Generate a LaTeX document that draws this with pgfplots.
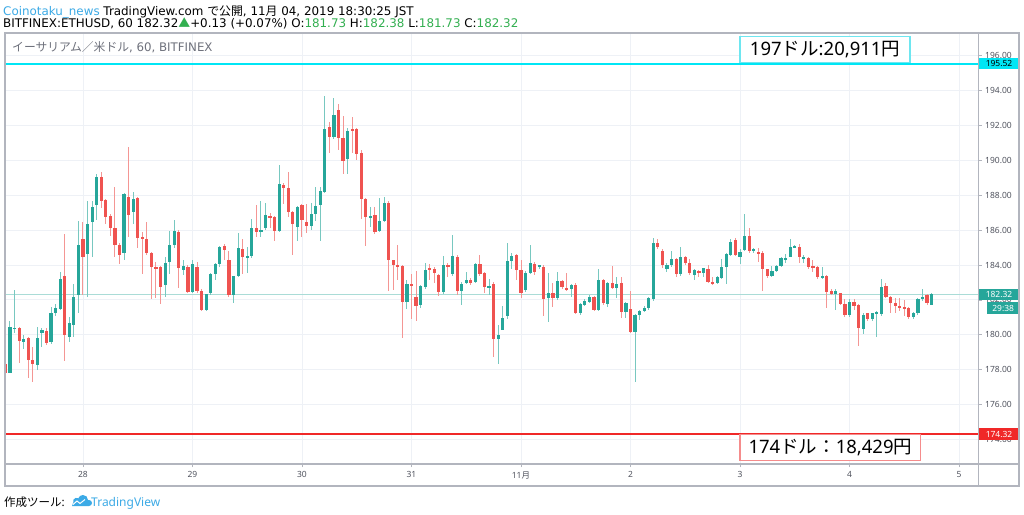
\documentclass[border=0pt]{standalone}
\usepackage{fontspec}
\setmainfont{Noto Sans}
\newfontfamily\cjk{Noto Sans CJK JP}
\newfontfamily\hdr{DejaVu Sans}
\usepackage{pgfplots}
\usepackage{pgfplotstable}
\pgfplotsset{compat=1.18}
\definecolor{upc}{RGB}{38,166,154}
\definecolor{dnc}{RGB}{239,83,80}
\definecolor{upw}{RGB}{120,200,192}
\definecolor{dnw}{RGB}{244,150,148}
\definecolor{gridc}{RGB}{238,241,246}
\definecolor{axc}{RGB}{178,181,190}
\definecolor{tickc}{RGB}{80,83,94}
\definecolor{cyanl}{RGB}{0,230,245}
\definecolor{cyanb}{RGB}{110,230,240}
\definecolor{redl}{RGB}{240,40,40}
\definecolor{redb}{RGB}{245,140,140}
\definecolor{curl}{RGB}{170,220,215}
\definecolor{cblue}{RGB}{60,170,230}
\definecolor{hgreen}{RGB}{50,175,80}
\definecolor{titlec}{RGB}{110,113,124}
\pgfplotstableread{
i o h l c
0 178.33 178.45 177.75 177.80
1 177.83 180.80 177.80 180.46
2 180.35 182.57 180.09 180.42
3 180.39 180.45 178.38 179.66
4 179.60 180.00 179.20 179.75
5 179.84 179.90 177.54 178.56
6 178.56 179.32 177.28 178.31
7 178.25 180.46 178.00 179.84
8 180.09 180.40 179.32 180.28
9 180.24 180.40 179.40 179.55
10 179.59 181.58 179.50 181.27
11 181.27 181.77 181.10 181.56
12 181.46 183.62 181.40 183.21
13 183.39 185.78 178.50 180.00
14 179.90 181.00 179.60 180.66
15 180.56 182.91 179.90 182.17
16 182.28 186.52 181.23 185.13
17 185.47 186.48 182.28 184.48
18 184.63 187.68 182.18 186.35
19 186.48 187.68 184.48 187.34
20 187.44 189.21 186.58 189.06
21 189.02 189.35 187.25 187.68
22 187.72 187.80 186.33 186.77
23 186.81 186.90 185.66 186.10
24 186.10 188.49 184.48 185.14
25 185.14 185.25 184.04 184.57
26 184.71 188.10 184.28 188.05
27 187.88 190.74 185.62 186.86
28 187.05 188.16 186.35 187.78
29 187.82 187.90 184.99 185.55
30 185.62 185.90 183.48 185.47
31 185.47 186.48 184.60 184.67
32 184.67 184.75 182.03 183.90
33 183.90 184.19 182.09 183.77
34 183.86 183.95 181.76 182.76
35 182.85 184.48 182.18 184.13
36 184.15 185.95 183.46 185.14
37 185.14 186.58 185.00 185.95
38 185.87 186.00 182.66 183.81
39 183.71 184.28 183.43 183.96
40 183.90 184.00 182.37 182.43
41 182.45 184.28 182.40 184.06
42 183.86 184.19 182.40 182.53
43 182.53 182.60 181.36 181.42
44 181.42 182.35 181.35 182.32
45 182.37 183.56 182.30 183.48
46 183.46 184.10 183.14 184.04
47 184.04 185.10 183.90 185.05
48 185.09 185.20 184.28 184.86
49 184.28 184.82 182.15 182.28
50 182.28 183.40 181.84 183.37
51 183.37 185.85 183.30 184.99
52 184.90 185.47 183.48 184.44
53 184.44 185.05 183.52 184.52
54 184.51 186.62 184.40 186.14
55 186.10 187.44 185.62 185.90
56 185.90 187.68 185.62 186.00
57 186.10 187.53 186.00 186.84
58 186.80 187.00 186.10 186.73
59 186.73 186.80 185.35 185.97
60 185.97 189.73 185.90 188.62
61 188.58 188.70 187.47 188.43
62 188.39 189.35 186.77 187.05
63 187.05 187.10 184.57 186.33
64 186.20 187.38 185.37 187.30
65 187.44 187.50 185.62 186.58
66 186.48 187.47 185.85 186.25
67 186.25 187.53 186.00 186.92
68 186.90 188.45 186.54 187.40
69 187.42 188.45 185.37 188.24
70 188.20 193.70 188.10 191.77
71 191.93 192.21 190.44 191.31
72 191.31 193.55 191.20 192.59
73 192.88 193.22 190.59 191.26
74 191.26 192.54 189.21 189.98
75 190.05 191.83 189.21 191.68
76 191.79 192.50 190.44 191.73
77 191.79 191.85 190.02 190.36
78 190.44 190.59 186.62 187.78
79 187.78 187.85 185.09 186.77
80 186.73 187.30 186.20 186.83
81 186.86 187.34 185.80 185.90
82 185.97 187.82 185.90 186.52
83 186.52 187.91 186.45 187.57
84 187.57 187.69 182.53 184.28
85 184.28 184.30 182.57 183.98
86 184.00 185.14 183.14 183.90
87 183.96 184.00 179.83 181.90
88 181.90 183.14 181.46 182.91
89 182.91 183.48 180.88 182.81
90 182.18 183.67 180.79 181.65
91 181.69 182.85 181.55 182.79
92 182.72 184.13 182.60 183.71
93 183.81 184.04 183.14 183.75
94 183.75 183.90 182.99 183.52
95 183.43 183.50 182.22 182.43
96 182.43 184.51 182.35 184.00
97 184.00 184.10 183.33 183.86
98 183.51 185.72 183.40 184.51
99 184.47 184.60 182.28 182.53
100 182.51 183.00 181.71 182.91
101 182.98 183.62 182.90 183.17
102 183.17 183.25 182.85 182.98
103 183.03 184.10 182.95 184.04
104 184.04 184.57 183.40 183.46
105 183.52 183.60 182.41 182.76
106 182.68 183.20 182.30 182.81
107 182.91 183.00 178.75 179.74
108 179.74 180.56 178.33 179.99
109 180.30 181.65 180.28 180.94
110 181.08 185.28 180.90 184.25
111 184.23 184.71 183.80 184.52
112 184.57 184.65 183.14 183.71
113 183.71 184.29 182.09 182.41
114 182.57 183.68 182.47 183.56
115 183.56 185.15 183.50 184.13
116 184.06 184.15 183.43 183.62
117 183.90 184.00 183.80 183.98
118 183.90 184.00 181.10 182.03
119 182.09 183.52 180.75 182.38
120 182.41 182.95 181.61 182.09
121 182.09 183.62 182.00 183.08
122 183.08 183.14 182.60 182.72
123 182.70 183.56 182.52 182.57
124 182.60 182.90 182.15 182.85
125 182.85 182.95 181.19 181.27
126 181.23 181.80 181.12 181.76
127 181.71 182.03 181.65 181.96
128 181.90 182.28 181.85 182.14
129 182.14 182.25 181.35 181.42
130 181.42 183.77 181.35 183.14
131 183.14 183.20 181.71 181.84
132 181.77 183.05 181.61 182.95
133 182.95 183.94 182.60 182.70
134 182.66 183.33 182.09 182.91
135 182.95 183.29 180.94 181.33
136 181.33 181.90 180.94 181.80
137 181.46 182.53 180.10 180.18
138 180.18 181.20 177.31 181.13
139 181.12 181.45 180.85 181.38
140 181.38 181.65 181.30 181.56
141 181.52 182.15 181.45 182.09
142 182.05 185.53 181.95 185.28
143 185.28 185.47 184.90 185.05
144 184.82 184.90 183.81 184.00
145 183.75 184.10 183.62 184.00
146 184.00 184.82 183.90 184.32
147 184.32 184.40 183.30 183.48
148 183.48 185.05 183.40 184.44
149 184.44 184.50 184.00 184.13
150 184.13 184.32 183.43 183.56
151 183.43 183.75 183.14 183.71
152 183.65 183.71 183.29 183.58
153 183.52 183.85 183.29 183.81
154 183.75 183.98 182.95 183.04
155 183.04 183.33 182.88 182.91
156 182.99 183.35 182.90 183.29
157 183.24 184.33 183.20 183.87
158 183.90 184.68 182.89 184.63
159 184.57 185.47 184.50 185.34
160 185.43 185.53 184.50 184.57
161 184.48 184.90 184.04 184.76
162 184.86 186.92 184.80 185.66
163 185.66 186.10 184.70 184.80
164 184.80 184.96 184.67 184.90
165 184.76 184.96 184.19 184.67
166 184.71 184.80 182.51 183.75
167 183.75 183.80 183.24 183.37
168 183.37 183.94 183.30 183.67
169 183.67 184.00 183.60 183.96
170 183.94 184.48 183.90 184.38
171 184.32 184.63 184.10 184.38
172 184.48 185.47 184.44 185.01
173 185.01 185.15 184.95 185.05
174 185.05 185.20 184.13 184.44
175 184.36 184.57 184.10 184.44
176 184.38 184.44 183.80 183.90
177 183.94 184.29 183.62 183.86
178 183.90 183.95 183.18 183.33
179 183.29 183.90 183.18 183.37
180 183.37 183.45 181.52 182.47
181 182.53 182.60 182.30 182.34
182 182.34 182.60 181.42 182.53
183 182.38 182.42 181.70 181.77
184 181.77 182.03 181.05 181.13
185 181.13 182.03 181.05 181.90
186 181.90 182.03 181.42 181.65
187 181.69 181.75 179.38 180.37
188 180.31 181.27 180.05 181.13
189 181.23 181.27 180.80 180.89
190 180.90 181.27 180.81 181.23
191 181.23 181.35 179.89 181.29
192 181.17 183.18 181.10 182.72
193 182.82 182.95 182.10 182.19
194 182.19 182.25 181.23 181.80
195 181.80 182.09 181.23 181.65
196 181.65 182.13 181.38 181.57
197 181.61 181.99 181.08 181.46
198 181.52 181.60 180.90 181.00
199 181.00 181.30 180.90 181.23
200 181.23 182.10 181.15 182.03
201 182.03 182.60 181.95 182.19
202 182.30 182.35 181.70 181.80
203 181.73 182.38 181.73 182.32
}\candles
\begin{document}
\begin{tikzpicture}[x=1pt,y=1pt]
\useasboundingbox (0,0) rectangle (1024,514);
\fill[white] (0,0) rectangle (1024,514);
\begin{axis}[
  at={(5pt,50pt)}, anchor=south west, scale only axis,
  width=973.7pt, height=431pt,
  xmin=27.2877, xmax=36.18, ymin=172.60, ymax=197.295,
  clip mode=individual,
  axis line style={color=axc, line width=1.2pt},
  xtick={28,29,30,31,32,33,34,35,36},
  xticklabels={28,29,30,31,11{\cjk 月},2,3,4,5},
  ytick={174,176,...,196},
  yticklabel pos=right, ytick pos=right, xtick pos=bottom,
  tick align=outside, major tick length=3pt,
  tick style={color=axc, line width=0.8pt},
  grid=major, grid style={color=gridc, line width=0.9pt},
  tick label style={font=\fontsize{8.5}{10}\selectfont, color=tickc},
  yticklabel style={/pgf/number format/.cd, fixed, fixed zerofill, precision=2, assume math mode=true},
  xticklabel style={yshift=-1pt},
]
\addplot[curl, line width=0.9pt, forget plot] coordinates {(27.2,182.32) (36.2,182.32)};
% wicks
\addplot[draw=none, mark=none, forget plot, error bars/.cd, y dir=both, y explicit, error mark=none,
  error bar style={draw=upw, line width=1pt}]
  table[x expr={27+(7+\thisrow{i})/24},
        y expr={\thisrow{c}>=\thisrow{o} ? 0.5*(\thisrow{h}+\thisrow{l}) : nan},
        y error expr={0.5*(\thisrow{h}-\thisrow{l})}] {\candles};
\addplot[draw=none, mark=none, forget plot, error bars/.cd, y dir=both, y explicit, error mark=none,
  error bar style={draw=dnw, line width=1pt}]
  table[x expr={27+(7+\thisrow{i})/24},
        y expr={\thisrow{c}<\thisrow{o} ? 0.5*(\thisrow{h}+\thisrow{l}) : nan},
        y error expr={0.5*(\thisrow{h}-\thisrow{l})}] {\candles};
% bodies
\addplot[draw=none, mark=none, forget plot, error bars/.cd, y dir=both, y explicit, error mark=none,
  error bar style={draw=upc, line width=3.2pt}]
  table[x expr={27+(7+\thisrow{i})/24},
        y expr={\thisrow{c}>=\thisrow{o} ? 0.5*(\thisrow{o}+\thisrow{c}) : nan},
        y error expr={max(0.5*abs(\thisrow{c}-\thisrow{o}),0.035)}] {\candles};
\addplot[draw=none, mark=none, forget plot, error bars/.cd, y dir=both, y explicit, error mark=none,
  error bar style={draw=dnc, line width=3.2pt}]
  table[x expr={27+(7+\thisrow{i})/24},
        y expr={\thisrow{c}<\thisrow{o} ? 0.5*(\thisrow{o}+\thisrow{c}) : nan},
        y error expr={max(0.5*abs(\thisrow{c}-\thisrow{o}),0.035)}] {\candles};
% horizontal levels
\addplot[cyanl, line width=1.3pt, forget plot] coordinates {(27.2,195.52) (36.2,195.52)};
\addplot[redl, line width=2pt, forget plot] coordinates {(27.2,174.32) (36.2,174.32)};
% price labels on the scale
\node[fill=cyanl, text=black, anchor=west, inner sep=0pt, minimum width=40.3pt, minimum height=11pt,
  font=\fontsize{8.5}{10}\selectfont] at (axis cs:36.18,195.52) {195.52};
\node[fill=upc, text=white, anchor=west, inner sep=0pt, minimum width=40.3pt, minimum height=11pt,
  font=\fontsize{8.5}{10}\selectfont] (cur) at (axis cs:36.18,182.32) {182.32};
\node[fill=upc, text=white, anchor=north east, inner sep=0pt, minimum width=32pt, minimum height=12pt,
  font=\fontsize{8.5}{10}\selectfont] at ([yshift=-2pt]cur.south east) {29:38};
\node[fill=redl, text=white, anchor=west, inner sep=0pt, minimum width=40.3pt, minimum height=11.5pt,
  font=\fontsize{8.5}{10}\selectfont] at (axis cs:36.18,174.32) {174.32};
\end{axis}
% outer frame and scale separators
\draw[axc, line width=1.2pt] (5,28) rectangle (1019,481);
\draw[axc, line width=1.2pt] (978.7,28) -- (978.7,481);
\draw[axc, line width=1.2pt] (5,50) -- (1019,50);
\draw[axc, line width=1.6pt] (5,28) -- (5,481);
% annotation boxes
\node[draw=cyanb, line width=1.1pt, fill=white, inner sep=0pt, minimum width=170pt, minimum height=26pt,
  font=\fontsize{18.5}{20}\selectfont] at (825,464.3) {197{\cjk ドル}:20,911{\cjk 円}};
\node[draw=redb, line width=1.1pt, fill=white, inner sep=0pt, minimum width=180.7pt, minimum height=26pt,
  font=\fontsize{18.5}{20}\selectfont] at (830.3,66.3) {174{\cjk ドル：}18,429{\cjk 円}};
% title in chart
\node[anchor=base west, inner sep=0pt, text=titlec, font=\hdr\fontsize{11.8}{13}\selectfont] at (12,462) {{\cjk イーサリアム／米ドル}, 60, BITFINEX};
% header
\node[anchor=base west, inner sep=0pt, font=\hdr\fontsize{11.9}{13}\selectfont] at (3,498.3)
  {\textcolor{cblue}{Coinotaku\_news} TradingView.com {\cjk で公開}, 11{\cjk 月} 04, 2019 18:30:25 JST};
\node[anchor=base west, inner sep=0pt, font=\hdr\fontsize{11.9}{13}\selectfont] at (3,486.3)
  {BITFINEX:ETHUSD, 60 182.32\textcolor{hgreen}{\cjk ▲}+0.13 (+0.07\%) O:\textcolor{hgreen}{181.73} H:\textcolor{hgreen}{182.38} L:\textcolor{hgreen}{181.73} C:\textcolor{hgreen}{182.32}};
% footer
\node[anchor=base west, inner sep=0pt, font=\fontsize{11.5}{13}\selectfont] at (4,8) {{\cjk 作成ツール}:};
\fill[cblue] (72,8) -- (89,8) arc[start angle=-90, end angle=90, radius=3] -- (88,14)
  arc[start angle=0, end angle=160, radius=5] arc[start angle=60, end angle=200, radius=3.5] -- cycle;
\draw[white, line width=1pt] (73,9.5) -- (77,13) -- (80,10.5) -- (85,14.5);
\node[anchor=base west, inner sep=0pt, text=cblue, font=\fontsize{12}{13}\selectfont] at (91,8) {TradingView};
\end{tikzpicture}
\end{document}
